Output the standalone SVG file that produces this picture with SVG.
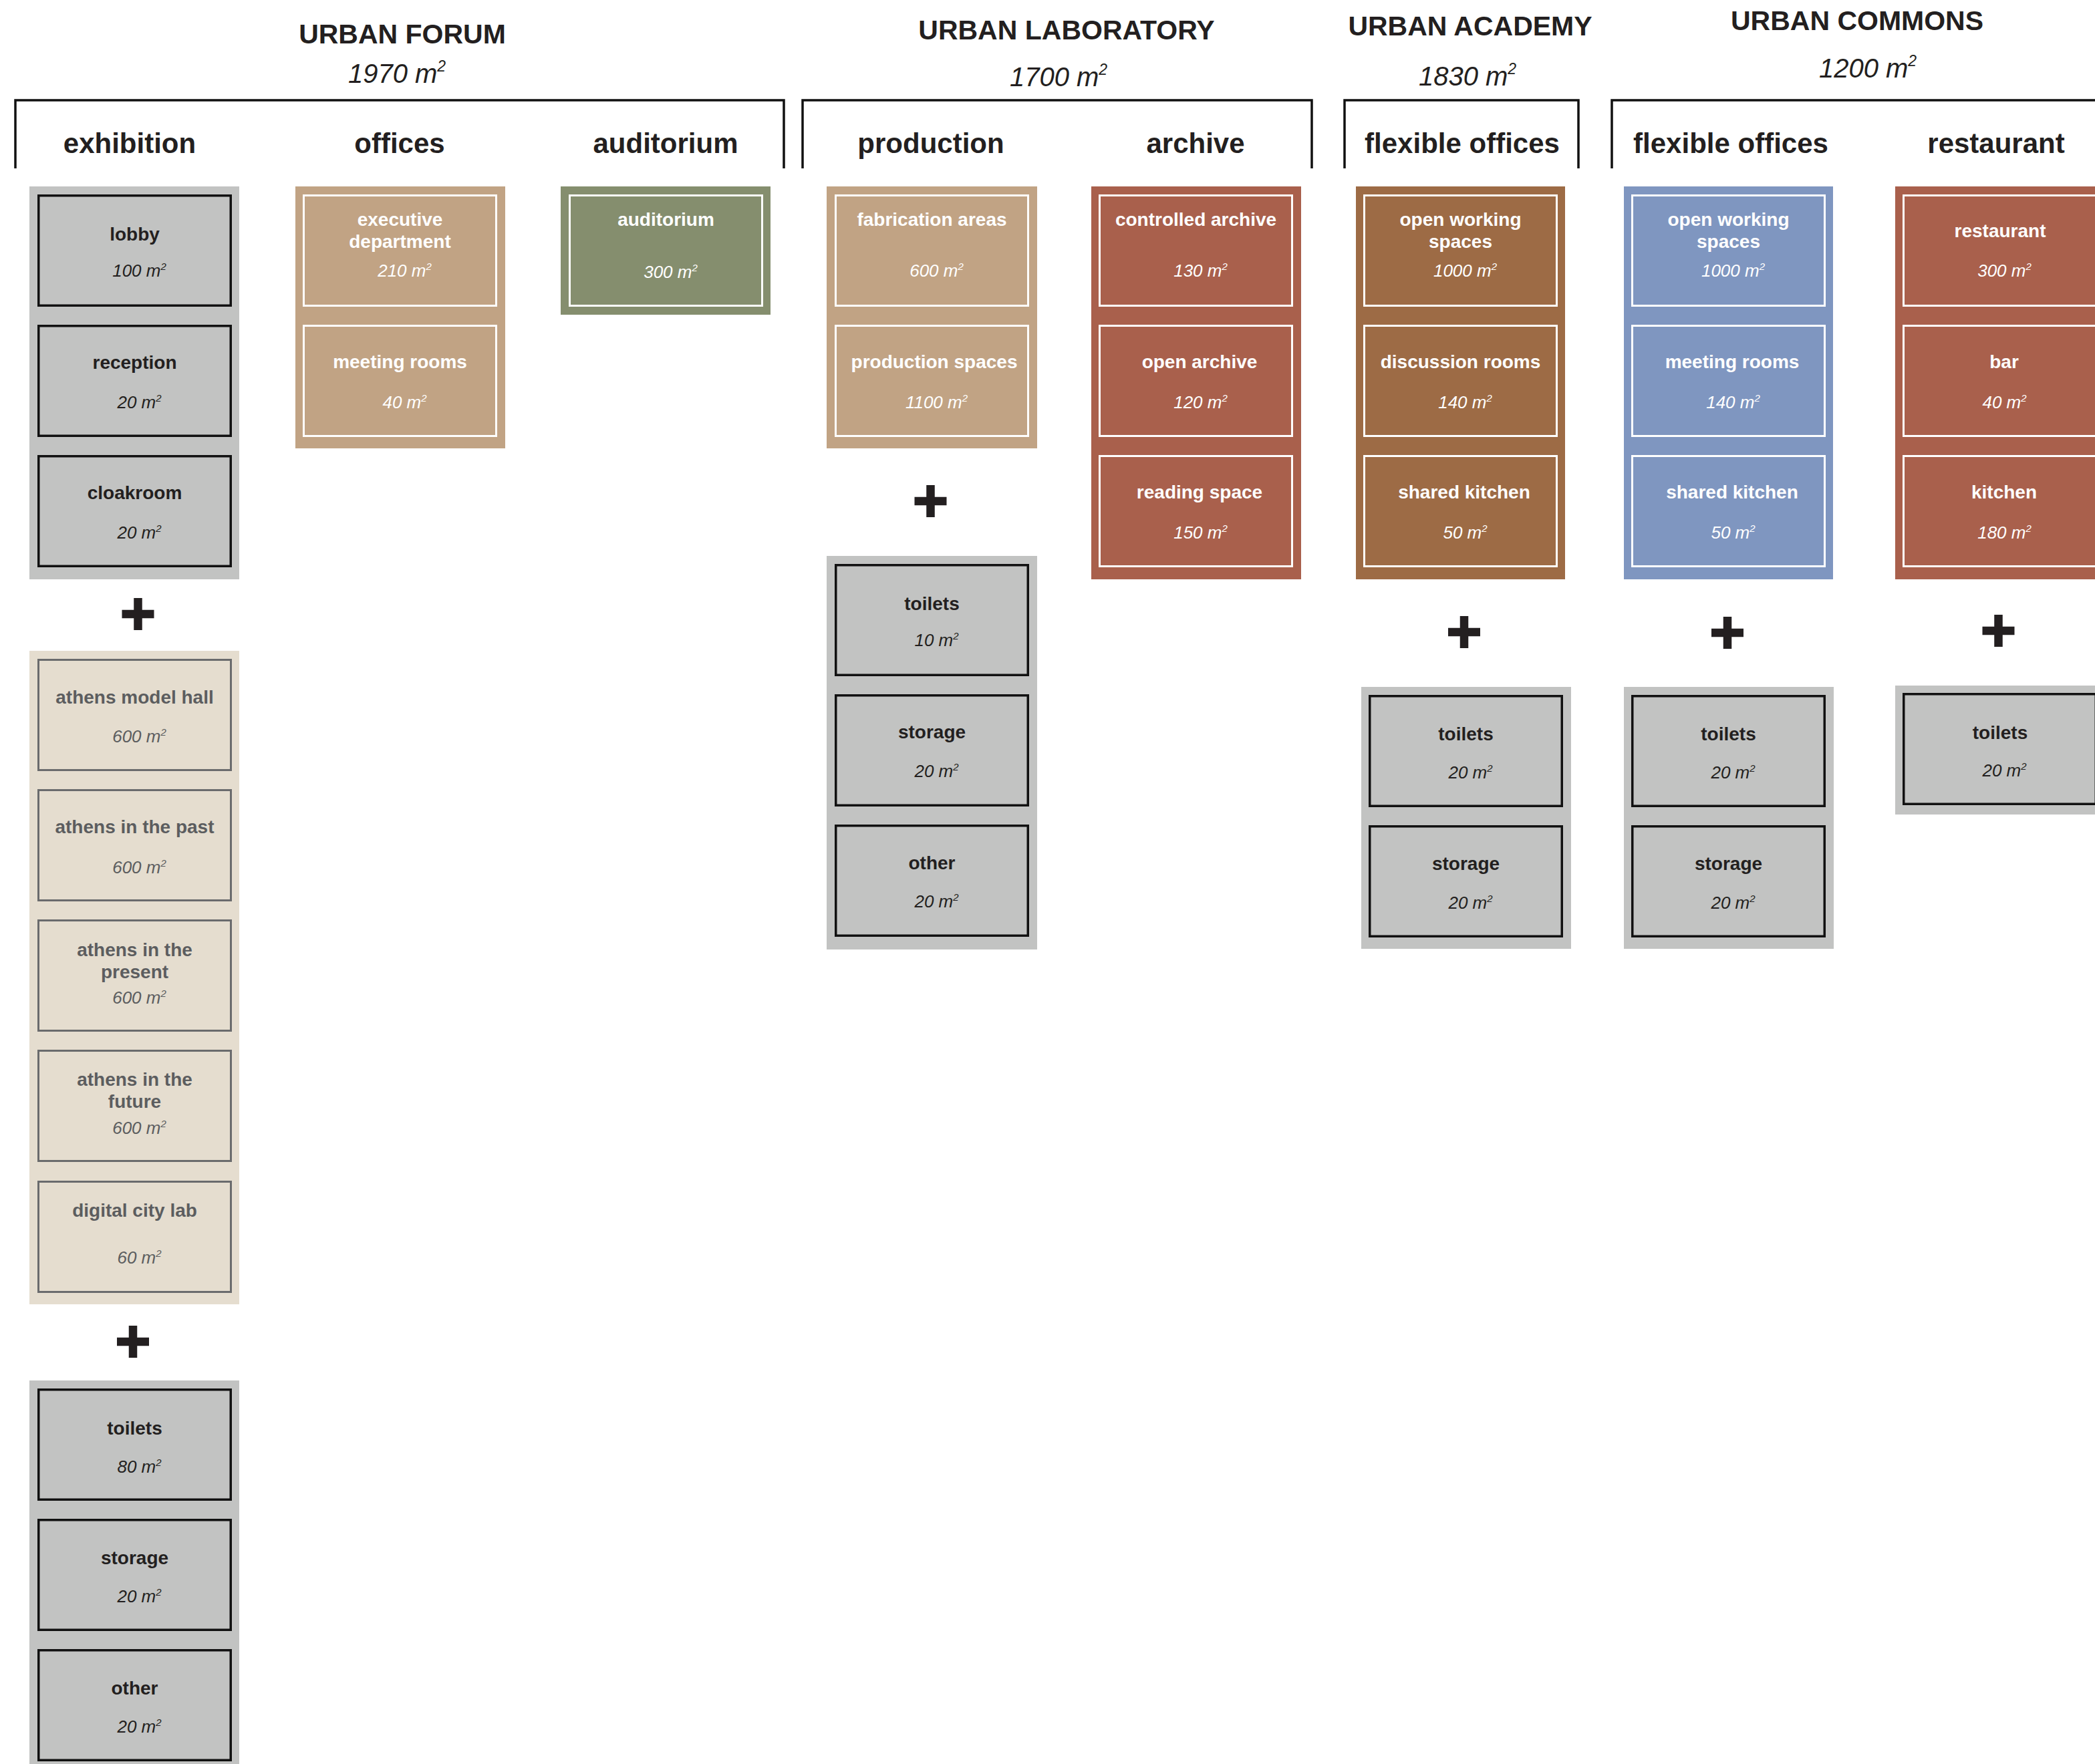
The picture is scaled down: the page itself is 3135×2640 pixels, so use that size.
<svg xmlns="http://www.w3.org/2000/svg" xmlns:xlink="http://www.w3.org/1999/xlink" width="3135" height="2640" viewBox="0 0 3135 2640">
<style>
text{font-family:"Liberation Sans",Arial,sans-serif;text-anchor:middle}
.h{font-size:41px;font-weight:bold;fill:#231f20}
.ha{font-size:40px;font-style:italic;fill:#231f20}
.sh{font-size:42px;font-weight:bold;fill:#231f20}
.lb{font-size:28px;font-weight:bold}
.ar{font-size:26px;font-style:italic}
.sup{font-size:15px}
.hsup{font-size:23px}
.dk{fill:#231f20}
.wt{fill:#ffffff}
.gy{fill:#5c5d5f}
.p-gray{fill:#c2c3c2}
.p-tan{fill:#c1a384}
.p-green{fill:#858e6e}
.p-rust{fill:#a9604c}
.p-brown{fill:#9d6b45}
.p-blue{fill:#7f96c0}
.p-beige{fill:#e5ddcf}
.b-dk{fill:none;stroke:#111111;stroke-width:3.5}
.b-wt{fill:none;stroke:#ffffff;stroke-width:3}
.b-gy{fill:none;stroke:#6a6b6d;stroke-width:3}
.br{fill:none;stroke:#111111;stroke-width:3.5}
</style>
<defs>
<g id="plus" fill="#231f20"><rect x="-24" y="-6.25" width="48" height="12.5"/><rect x="-6.25" y="-24" width="12.5" height="48"/></g>
</defs>
<rect width="3135" height="2640" fill="#ffffff"/>

<g id="headings">
<text class="h" x="602" y="65">URBAN FORUM</text>
<text class="ha" x="594" y="124">1970 m<tspan class="hsup" dy="-17">2</tspan></text>
<text class="h" x="1596" y="59">URBAN LABORATORY</text>
<text class="ha" x="1584" y="129">1700 m<tspan class="hsup" dy="-17">2</tspan></text>
<text class="h" x="2200" y="53">URBAN ACADEMY</text>
<text class="ha" x="2196" y="128">1830 m<tspan class="hsup" dy="-17">2</tspan></text>
<text class="h" x="2779" y="45">URBAN COMMONS</text>
<text class="ha" x="2795" y="116">1200 m<tspan class="hsup" dy="-17">2</tspan></text>
</g>

<g id="connectors">
<path class="br" d="M23,252 V150 H1173 V252"/>
<path class="br" d="M1201,252 V150 H1963 V252"/>
<path class="br" d="M2012,252 V150 H2362 V252"/>
<path class="br" d="M2412,252 V150 H3140"/>
</g>

<g id="subheaders">
<text class="sh" x="194" y="229">exhibition</text>
<text class="sh" x="598" y="229">offices</text>
<text class="sh" x="996" y="229">auditorium</text>
<text class="sh" x="1393" y="229">production</text>
<text class="sh" x="1789" y="229">archive</text>
<text class="sh" x="2188" y="229">flexible offices</text>
<text class="sh" x="2590" y="229">flexible offices</text>
<text class="sh" x="2987" y="229">restaurant</text>
</g>

<!-- URBAN FORUM : exhibition -->
<g id="exhibition-entrance">
<rect class="p-gray" x="44" y="279" width="314" height="588"/>
<g id="lobby"><rect class="b-dk" x="57.75" y="292.75" width="287.5" height="164.5"/>
<text class="lb dk" x="201.5" y="360">lobby</text><text class="ar dk" x="208.5" y="414">100 m<tspan class="sup" dy="-10">2</tspan></text></g>
<g id="reception"><rect class="b-dk" x="57.75" y="487.75" width="287.5" height="164.5"/>
<text class="lb dk" x="201.5" y="552">reception</text><text class="ar dk" x="208.5" y="611">20 m<tspan class="sup" dy="-10">2</tspan></text></g>
<g id="cloakroom"><rect class="b-dk" x="57.75" y="682.75" width="287.5" height="164.5"/>
<text class="lb dk" x="201.5" y="747">cloakroom</text><text class="ar dk" x="208.5" y="806">20 m<tspan class="sup" dy="-10">2</tspan></text></g>
</g>
<use href="#plus" x="206.5" y="919"/>
<g id="exhibition-halls">
<rect class="p-beige" x="44" y="974" width="314" height="978"/>
<g id="athens-model-hall"><rect class="b-gy" x="57.5" y="987.5" width="288" height="165"/>
<text class="lb gy" x="201.5" y="1053">athens model hall</text><text class="ar gy" x="208.5" y="1111">600 m<tspan class="sup" dy="-10">2</tspan></text></g>
<g id="athens-past"><rect class="b-gy" x="57.5" y="1182.5" width="288" height="165"/>
<text class="lb gy" x="201.5" y="1247">athens in the past</text><text class="ar gy" x="208.5" y="1307">600 m<tspan class="sup" dy="-10">2</tspan></text></g>
<g id="athens-present"><rect class="b-gy" x="57.5" y="1377.5" width="288" height="165"/>
<text class="lb gy" x="201.5" y="1431">athens in the</text><text class="lb gy" x="201.5" y="1464">present</text><text class="ar gy" x="208.5" y="1502">600 m<tspan class="sup" dy="-10">2</tspan></text></g>
<g id="athens-future"><rect class="b-gy" x="57.5" y="1572.5" width="288" height="165"/>
<text class="lb gy" x="201.5" y="1625">athens in the</text><text class="lb gy" x="201.5" y="1658">future</text><text class="ar gy" x="208.5" y="1697">600 m<tspan class="sup" dy="-10">2</tspan></text></g>
<g id="digital-city-lab"><rect class="b-gy" x="57.5" y="1768.5" width="288" height="165"/>
<text class="lb gy" x="201.5" y="1821">digital city lab</text><text class="ar gy" x="208.5" y="1891">60 m<tspan class="sup" dy="-10">2</tspan></text></g>
</g>
<use href="#plus" x="199" y="2008"/>
<g id="exhibition-services">
<rect class="p-gray" x="44" y="2066" width="314" height="580"/>
<g id="exh-toilets"><rect class="b-dk" x="57.75" y="2079.75" width="287.5" height="164.5"/>
<text class="lb dk" x="201.5" y="2147">toilets</text><text class="ar dk" x="208.5" y="2204">80 m<tspan class="sup" dy="-10">2</tspan></text></g>
<g id="exh-storage"><rect class="b-dk" x="57.75" y="2274.75" width="287.5" height="164.5"/>
<text class="lb dk" x="201.5" y="2341">storage</text><text class="ar dk" x="208.5" y="2398">20 m<tspan class="sup" dy="-10">2</tspan></text></g>
<g id="exh-other"><rect class="b-dk" x="57.75" y="2469.75" width="287.5" height="164.5"/>
<text class="lb dk" x="201.5" y="2536">other</text><text class="ar dk" x="208.5" y="2593">20 m<tspan class="sup" dy="-10">2</tspan></text></g>
</g>

<!-- offices -->
<g id="offices">
<rect class="p-tan" x="442" y="279" width="314" height="392"/>
<g id="executive-department"><rect class="b-wt" x="454.5" y="292.5" width="288" height="165"/>
<text class="lb wt" x="598.5" y="338">executive</text><text class="lb wt" x="598.5" y="371">department</text><text class="ar wt" x="605.5" y="414">210 m<tspan class="sup" dy="-10">2</tspan></text></g>
<g id="off-meeting-rooms"><rect class="b-wt" x="454.5" y="487.5" width="288" height="165"/>
<text class="lb wt" x="598.5" y="551">meeting rooms</text><text class="ar wt" x="605.5" y="611">40 m<tspan class="sup" dy="-10">2</tspan></text></g>
</g>

<!-- auditorium -->
<g id="auditorium">
<rect class="p-green" x="839" y="279" width="314" height="192"/>
<g id="auditorium-room"><rect class="b-wt" x="852.5" y="292.5" width="288" height="165"/>
<text class="lb wt" x="996.5" y="338">auditorium</text><text class="ar wt" x="1003.5" y="416">300 m<tspan class="sup" dy="-10">2</tspan></text></g>
</g>

<!-- URBAN LABORATORY : production -->
<g id="production">
<rect class="p-tan" x="1237" y="279" width="315" height="392"/>
<g id="fabrication-areas"><rect class="b-wt" x="1250.5" y="292.5" width="288" height="165"/>
<text class="lb wt" x="1394.5" y="338">fabrication areas</text><text class="ar wt" x="1401.5" y="414">600 m<tspan class="sup" dy="-10">2</tspan></text></g>
<g id="production-spaces"><rect class="b-wt" x="1250.5" y="487.5" width="288" height="165"/>
<text class="lb wt" x="1398" y="551">production spaces</text><text class="ar wt" x="1401.5" y="611">1100 m<tspan class="sup" dy="-10">2</tspan></text></g>
</g>
<use href="#plus" x="1392.5" y="750"/>
<g id="production-services">
<rect class="p-gray" x="1237" y="832" width="315" height="589"/>
<g id="lab-toilets"><rect class="b-dk" x="1250.75" y="845.75" width="287.5" height="164.5"/>
<text class="lb dk" x="1394.5" y="913">toilets</text><text class="ar dk" x="1401.5" y="967">10 m<tspan class="sup" dy="-10">2</tspan></text></g>
<g id="lab-storage"><rect class="b-dk" x="1250.75" y="1040.75" width="287.5" height="164.5"/>
<text class="lb dk" x="1394.5" y="1105">storage</text><text class="ar dk" x="1401.5" y="1163">20 m<tspan class="sup" dy="-10">2</tspan></text></g>
<g id="lab-other"><rect class="b-dk" x="1250.75" y="1235.75" width="287.5" height="164.5"/>
<text class="lb dk" x="1394.5" y="1301">other</text><text class="ar dk" x="1401.5" y="1358">20 m<tspan class="sup" dy="-10">2</tspan></text></g>
</g>

<!-- archive -->
<g id="archive">
<rect class="p-rust" x="1633" y="279" width="314" height="588"/>
<g id="controlled-archive"><rect class="b-wt" x="1645.5" y="292.5" width="288" height="165"/>
<text class="lb wt" x="1789.5" y="338">controlled archive</text><text class="ar wt" x="1796.5" y="414">130 m<tspan class="sup" dy="-10">2</tspan></text></g>
<g id="open-archive"><rect class="b-wt" x="1645.5" y="487.5" width="288" height="165"/>
<text class="lb wt" x="1795" y="551">open archive</text><text class="ar wt" x="1796.5" y="611">120 m<tspan class="sup" dy="-10">2</tspan></text></g>
<g id="reading-space"><rect class="b-wt" x="1645.5" y="682.5" width="288" height="165"/>
<text class="lb wt" x="1795" y="746">reading space</text><text class="ar wt" x="1796.5" y="806">150 m<tspan class="sup" dy="-10">2</tspan></text></g>
</g>

<!-- URBAN ACADEMY -->
<g id="academy-offices">
<rect class="p-brown" x="2029" y="279" width="313" height="588"/>
<g id="aca-open-working"><rect class="b-wt" x="2041.5" y="292.5" width="288" height="165"/>
<text class="lb wt" x="2185.5" y="338">open working</text><text class="lb wt" x="2185.5" y="371">spaces</text><text class="ar wt" x="2192.5" y="414">1000 m<tspan class="sup" dy="-10">2</tspan></text></g>
<g id="discussion-rooms"><rect class="b-wt" x="2041.5" y="487.5" width="288" height="165"/>
<text class="lb wt" x="2185.5" y="551">discussion rooms</text><text class="ar wt" x="2192.5" y="611">140 m<tspan class="sup" dy="-10">2</tspan></text></g>
<g id="aca-shared-kitchen"><rect class="b-wt" x="2041.5" y="682.5" width="288" height="165"/>
<text class="lb wt" x="2191" y="746">shared kitchen</text><text class="ar wt" x="2192.5" y="806">50 m<tspan class="sup" dy="-10">2</tspan></text></g>
</g>
<use href="#plus" x="2191" y="946"/>
<g id="academy-services">
<rect class="p-gray" x="2037" y="1028" width="314" height="392"/>
<g id="aca-toilets"><rect class="b-dk" x="2049.75" y="1041.75" width="287.5" height="164.5"/>
<text class="lb dk" x="2193.5" y="1108">toilets</text><text class="ar dk" x="2200.5" y="1165">20 m<tspan class="sup" dy="-10">2</tspan></text></g>
<g id="aca-storage"><rect class="b-dk" x="2049.75" y="1236.75" width="287.5" height="164.5"/>
<text class="lb dk" x="2193.5" y="1302">storage</text><text class="ar dk" x="2200.5" y="1360">20 m<tspan class="sup" dy="-10">2</tspan></text></g>
</g>

<!-- URBAN COMMONS : flexible offices -->
<g id="commons-offices">
<rect class="p-blue" x="2430" y="279" width="313" height="588"/>
<g id="com-open-working"><rect class="b-wt" x="2442.5" y="292.5" width="288" height="165"/>
<text class="lb wt" x="2586.5" y="338">open working</text><text class="lb wt" x="2586.5" y="371">spaces</text><text class="ar wt" x="2593.5" y="414">1000 m<tspan class="sup" dy="-10">2</tspan></text></g>
<g id="com-meeting-rooms"><rect class="b-wt" x="2442.5" y="487.5" width="288" height="165"/>
<text class="lb wt" x="2592" y="551">meeting rooms</text><text class="ar wt" x="2593.5" y="611">140 m<tspan class="sup" dy="-10">2</tspan></text></g>
<g id="com-shared-kitchen"><rect class="b-wt" x="2442.5" y="682.5" width="288" height="165"/>
<text class="lb wt" x="2592" y="746">shared kitchen</text><text class="ar wt" x="2593.5" y="806">50 m<tspan class="sup" dy="-10">2</tspan></text></g>
</g>
<use href="#plus" x="2585" y="947"/>
<g id="commons-services">
<rect class="p-gray" x="2430" y="1028" width="314" height="392"/>
<g id="com-toilets"><rect class="b-dk" x="2442.75" y="1041.75" width="287.5" height="164.5"/>
<text class="lb dk" x="2586.5" y="1108">toilets</text><text class="ar dk" x="2593.5" y="1165">20 m<tspan class="sup" dy="-10">2</tspan></text></g>
<g id="com-storage"><rect class="b-dk" x="2442.75" y="1236.75" width="287.5" height="164.5"/>
<text class="lb dk" x="2586.5" y="1302">storage</text><text class="ar dk" x="2593.5" y="1360">20 m<tspan class="sup" dy="-10">2</tspan></text></g>
</g>

<!-- restaurant -->
<g id="restaurant">
<rect class="p-rust" x="2836" y="279" width="313" height="588"/>
<g id="restaurant-room"><rect class="b-wt" x="2848.5" y="292.5" width="288" height="165"/>
<text class="lb wt" x="2993" y="355">restaurant</text><text class="ar wt" x="2999.5" y="414">300 m<tspan class="sup" dy="-10">2</tspan></text></g>
<g id="bar"><rect class="b-wt" x="2848.5" y="487.5" width="288" height="165"/>
<text class="lb wt" x="2999" y="551">bar</text><text class="ar wt" x="2999.5" y="611">40 m<tspan class="sup" dy="-10">2</tspan></text></g>
<g id="kitchen"><rect class="b-wt" x="2848.5" y="682.5" width="288" height="165"/>
<text class="lb wt" x="2999" y="746">kitchen</text><text class="ar wt" x="2999.5" y="806">180 m<tspan class="sup" dy="-10">2</tspan></text></g>
</g>
<use href="#plus" x="2990.5" y="944"/>
<g id="restaurant-services">
<rect class="p-gray" x="2836" y="1026" width="313" height="193"/>
<g id="res-toilets"><rect class="b-dk" x="2848.75" y="1038.75" width="287.5" height="164.5"/>
<text class="lb dk" x="2993" y="1106">toilets</text><text class="ar dk" x="2999.5" y="1162">20 m<tspan class="sup" dy="-10">2</tspan></text></g>
</g>
</svg>
